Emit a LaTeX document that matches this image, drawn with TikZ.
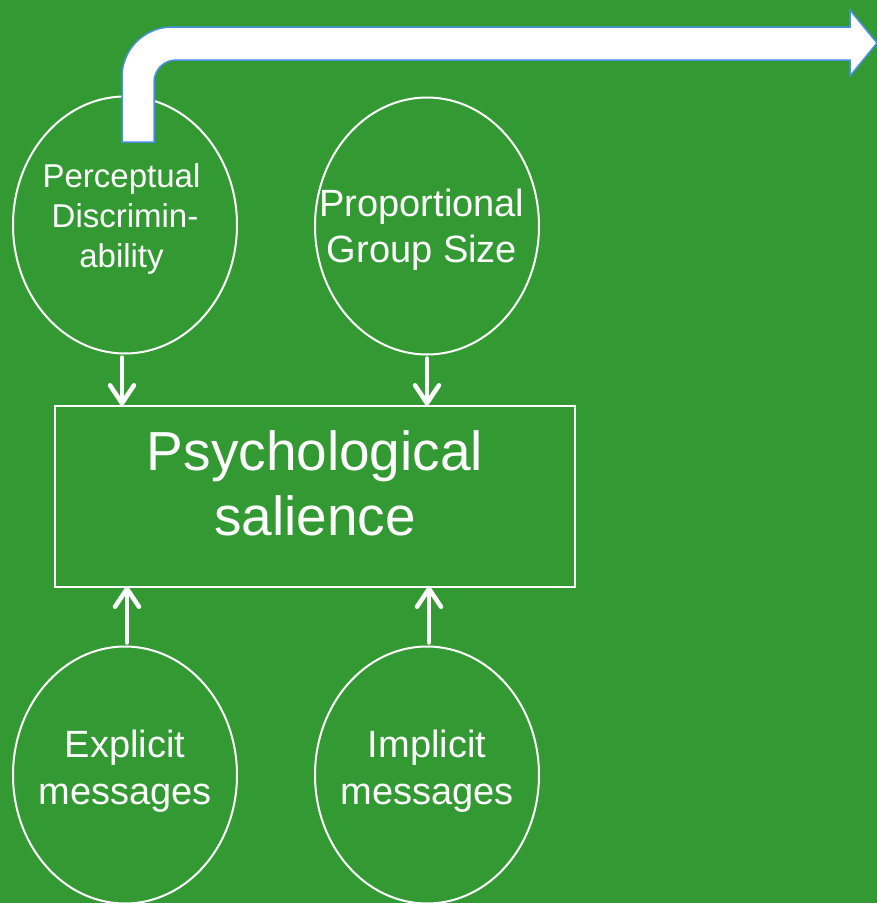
\documentclass[tikz,border=0pt]{standalone}
\usepackage{fontspec}
\setmainfont{Liberation Sans}
\usetikzlibrary{shapes.geometric,arrows.meta}
\definecolor{bggreen}{RGB}{51,153,51}
\definecolor{arrowblue}{RGB}{74,144,226}

\begin{document}
\begin{tikzpicture}[x=1pt,y=-1pt,
	oval/.style={draw=white,line width=2pt,ellipse,inner sep=-40pt,outer sep=0,minimum width=224pt,minimum height=257pt,text=white,align=center},
	salbox/.style={draw=white,line width=2pt,inner sep=0,outer sep=0,minimum width=520pt,minimum height=181pt,text=white,align=center,text depth=26pt},
	link/.style={draw=white,line width=4.5pt,line cap=round,line join=round,-{Straight Barb[length=18pt,width=24pt,round]},shorten <=4pt}]
	\useasboundingbox (0,0) rectangle (877,903);
	\fill[bggreen] (0,0) rectangle (877,903);
	\node[oval,font=\fontsize{33}{40}\selectfont,text depth=18pt] (1) at (125,225) {Perceptual\hspace*{7pt}\\Discrimin-\hspace*{7pt}\\ability\hspace*{7pt}};
	\node[oval,font=\fontsize{38}{46}\selectfont,text depth=0pt] (2) at (427,226) {Proportional\hspace*{10pt}\\Group Size\hspace*{10pt}};
	\node[salbox,font=\fontsize{55}{65}\selectfont] (3) at (315,496) {Psychological\\salience};
	\node[oval,font=\fontsize{38}{47}\selectfont,text depth=15pt] (4) at (125,775) {Explicit\\messages};
	\node[oval,font=\fontsize{38}{47}\selectfont,text depth=15pt] (5) at (427,775) {Implicit\\messages};
	\draw[link] ([xshift=-3pt]1.south) -- ([xshift=-3pt]1.south |- 3.north);
	\draw[link] (2.south) -- (2.south |- 3.north);
	\draw[link] ([xshift=2pt]4.north) -- ([xshift=2pt]4.north |- 3.south);
	\draw[link] ([xshift=2pt]5.north) -- ([xshift=2pt]5.north |- 3.south);
	% bent arrow out of the top
	\filldraw[fill=white,draw=arrowblue,line width=1.5pt,line join=miter]
		(122,142) -- (122,77) arc[start angle=180,end angle=270,radius=50]
		-- (850,27) -- (850,10) -- (877,43) -- (850,76) -- (850,60)
		-- (176,60) arc[start angle=270,end angle=180,radius=22]
		-- (154,142) -- cycle;
\end{tikzpicture}
\end{document}
